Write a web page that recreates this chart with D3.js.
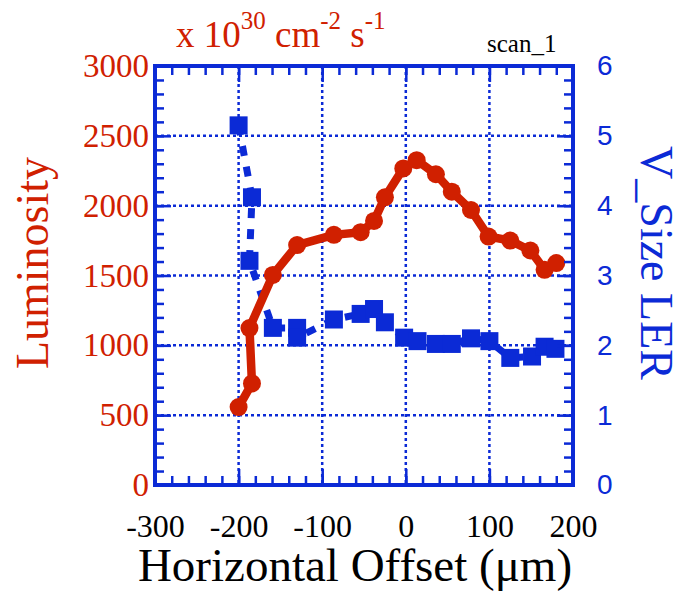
<!DOCTYPE html>
<html>
<head>
<meta charset="utf-8">
<script src="https://cdn.jsdelivr.net/npm/d3@7"></script>
<style>
	body { margin: 0; background: #fff; }
</style>
</head>
<body>
<svg width="678" height="591"></svg>
<script>
// luminosity scan (red, left axis)
var lumX = [-200, -184, -187, -159, -130, -86, -54, -38, -25, -3, 13, 36, 55, 78, 99, 125, 149, 166, 180];
var lumY = [558, 727, 1124, 1504, 1718, 1791, 1810, 1891, 2060, 2267, 2326, 2225, 2100, 1969, 1779, 1750, 1679, 1541, 1589];

// V_Size LER (blue, right axis)
var vX = [-200, -184, -187, -159, -130, -130, -86, -54, -38, -25, -2, 14, 36, 55, 78, 100, 125, 151, 166, 179];
var vY = [5.15, 4.12, 3.21, 2.25, 2.25, 2.11, 2.37, 2.45, 2.52, 2.33, 2.11, 2.06, 2.02, 2.02, 2.10, 2.06, 1.82, 1.84, 1.98, 1.95];

var xTicks = [-300, -200, -100, 0, 100, 200];
var lumTicks = [0, 500, 1000, 1500, 2000, 2500, 3000];
var vTicks = [0, 1, 2, 3, 4, 5, 6];
var xGrid = [-200, -100, 0, 100];
var lumGrid = [500, 1000, 1500, 2000, 2500];

var BLUE = "#0b2ad6", RED = "#d02000";

var svg = d3.select("svg");
var pLeft = 155, pRight = 573, pTop = 66, pBottom = 485;

var x = d3.scaleLinear().domain([-300, 200]).range([pLeft, pRight]);
var yL = d3.scaleLinear().domain([0, 3000]).range([pBottom, pTop]);
var yR = d3.scaleLinear().domain([0, 6]).range([pBottom, pTop]);
var plain = function (d) { return String(d); };

// dotted grid
var grid = svg.append("g")
	.attr("stroke", BLUE)
	.attr("stroke-width", 2.5)
	.attr("stroke-dasharray", "3,3");
grid.selectAll("line.gx").data(xGrid).enter().append("line")
	.attr("x1", function (d) { return x(d); })
	.attr("x2", function (d) { return x(d); })
	.attr("y1", pTop).attr("y2", pBottom);
grid.selectAll("line.gy").data(lumGrid).enter().append("line")
	.attr("y1", function (d) { return yL(d); })
	.attr("y2", function (d) { return yL(d); })
	.attr("x1", pLeft).attr("x2", pRight);

// blue series
var vPts = vX.map(function (d, i) { return [d, vY[i]]; });
svg.append("path")
	.datum(vPts)
	.attr("fill", "none")
	.attr("stroke", BLUE)
	.attr("stroke-width", 7)
	.attr("stroke-dasharray", "10,11")
	.attr("d", d3.line().x(function (d) { return x(d[0]); }).y(function (d) { return yR(d[1]); }));
svg.append("g").selectAll("rect").data(vPts).enter().append("rect")
	.attr("x", function (d) { return x(d[0]) - 9; })
	.attr("y", function (d) { return yR(d[1]) - 9; })
	.attr("width", 18).attr("height", 18)
	.attr("fill", BLUE);

// red series
var lumPts = lumX.map(function (d, i) { return [d, lumY[i]]; });
svg.append("path")
	.datum(lumPts)
	.attr("fill", "none")
	.attr("stroke", RED)
	.attr("stroke-width", 8.5)
	.attr("stroke-linejoin", "round")
	.attr("d", d3.line().x(function (d) { return x(d[0]); }).y(function (d) { return yL(d[1]); }));
svg.append("g").selectAll("circle").data(lumPts).enter().append("circle")
	.attr("cx", function (d) { return x(d[0]); })
	.attr("cy", function (d) { return yL(d[1]); })
	.attr("r", 9)
	.attr("fill", RED);

// axes (ticks point inward)
function styleAxis(g, color, font, size) {
	g.select(".domain").remove();
	g.selectAll(".tick line").attr("stroke", BLUE).attr("stroke-width", 2.5);
	g.selectAll(".tick text").attr("fill", color).style("font-family", font).style("font-size", size + "px");
}
var minorX = d3.range(-300, 201, 20);
var minorL = d3.range(0, 3001, 100);

svg.append("g").attr("transform", "translate(0," + pBottom + ")")
	.call(d3.axisBottom(x).tickValues(minorX).tickSize(-9).tickFormat(""))
	.call(styleAxis, "#000", "Liberation Serif", 32);
svg.append("g").attr("transform", "translate(0," + pTop + ")")
	.call(d3.axisTop(x).tickValues(minorX).tickSize(-9).tickFormat(""))
	.call(styleAxis, "#000", "Liberation Serif", 32);
svg.append("g").attr("transform", "translate(" + pLeft + ",0)")
	.call(d3.axisLeft(yL).tickValues(minorL).tickSize(-9).tickFormat(""))
	.call(styleAxis, RED, "Liberation Serif", 33);
svg.append("g").attr("transform", "translate(" + pRight + ",0)")
	.call(d3.axisRight(yL).tickValues(minorL).tickSize(-9).tickFormat(""))
	.call(styleAxis, BLUE, "Liberation Sans", 28);

svg.append("g").attr("transform", "translate(0," + pBottom + ")")
	.call(d3.axisBottom(x).tickValues(xTicks).tickSize(-16).tickPadding(29).tickFormat(plain))
	.call(styleAxis, "#000", "Liberation Serif", 32);
svg.append("g").attr("transform", "translate(0," + pTop + ")")
	.call(d3.axisTop(x).tickValues(xTicks).tickSize(-16).tickFormat(""))
	.call(styleAxis, "#000", "Liberation Serif", 32);
svg.append("g").attr("transform", "translate(" + pLeft + ",0)")
	.call(d3.axisLeft(yL).tickValues(lumTicks).tickSize(-16).tickPadding(6).tickFormat(plain))
	.call(styleAxis, RED, "Liberation Serif", 33);
svg.append("g").attr("transform", "translate(" + pRight + ",0)")
	.call(d3.axisRight(yR).tickValues(vTicks).tickSize(-16).tickPadding(24).tickFormat(plain))
	.call(styleAxis, BLUE, "Liberation Sans", 28);

// frame
svg.append("rect")
	.attr("x", pLeft).attr("y", pTop)
	.attr("width", pRight - pLeft).attr("height", pBottom - pTop)
	.attr("fill", "none")
	.attr("stroke", BLUE)
	.attr("stroke-width", 4);

// titles
svg.append("text")
	.attr("x", 355).attr("y", 581)
	.attr("text-anchor", "middle")
	.style("font-family", "Liberation Serif").style("font-size", "47px")
	.text("Horizontal Offset (μm)");

svg.append("text")
	.attr("transform", "translate(48,263) rotate(-90)")
	.attr("text-anchor", "middle")
	.attr("fill", RED)
	.style("font-family", "Liberation Serif").style("font-size", "46px")
	.text("Luminosity");

svg.append("text")
	.attr("transform", "translate(641,263) rotate(90)")
	.attr("text-anchor", "middle")
	.attr("fill", BLUE)
	.style("font-family", "Liberation Serif").style("font-size", "46px")
	.text("V_Size LER");

var unit = svg.append("text")
	.attr("x", 176).attr("y", 47)
	.attr("fill", RED)
	.style("font-family", "Liberation Serif").style("font-size", "37px");
unit.append("tspan").text("x 10");
unit.append("tspan").attr("dy", -18).style("font-size", "25px").text("30");
unit.append("tspan").attr("dy", 18).text(" cm");
unit.append("tspan").attr("dy", -18).style("font-size", "25px").text("-2");
unit.append("tspan").attr("dy", 18).text(" s");
unit.append("tspan").attr("dy", -18).style("font-size", "25px").text("-1");

svg.append("text")
	.attr("x", 487).attr("y", 52)
	.style("font-family", "Liberation Serif").style("font-size", "25px")
	.text("scan_1");
</script>
</body>
</html>
